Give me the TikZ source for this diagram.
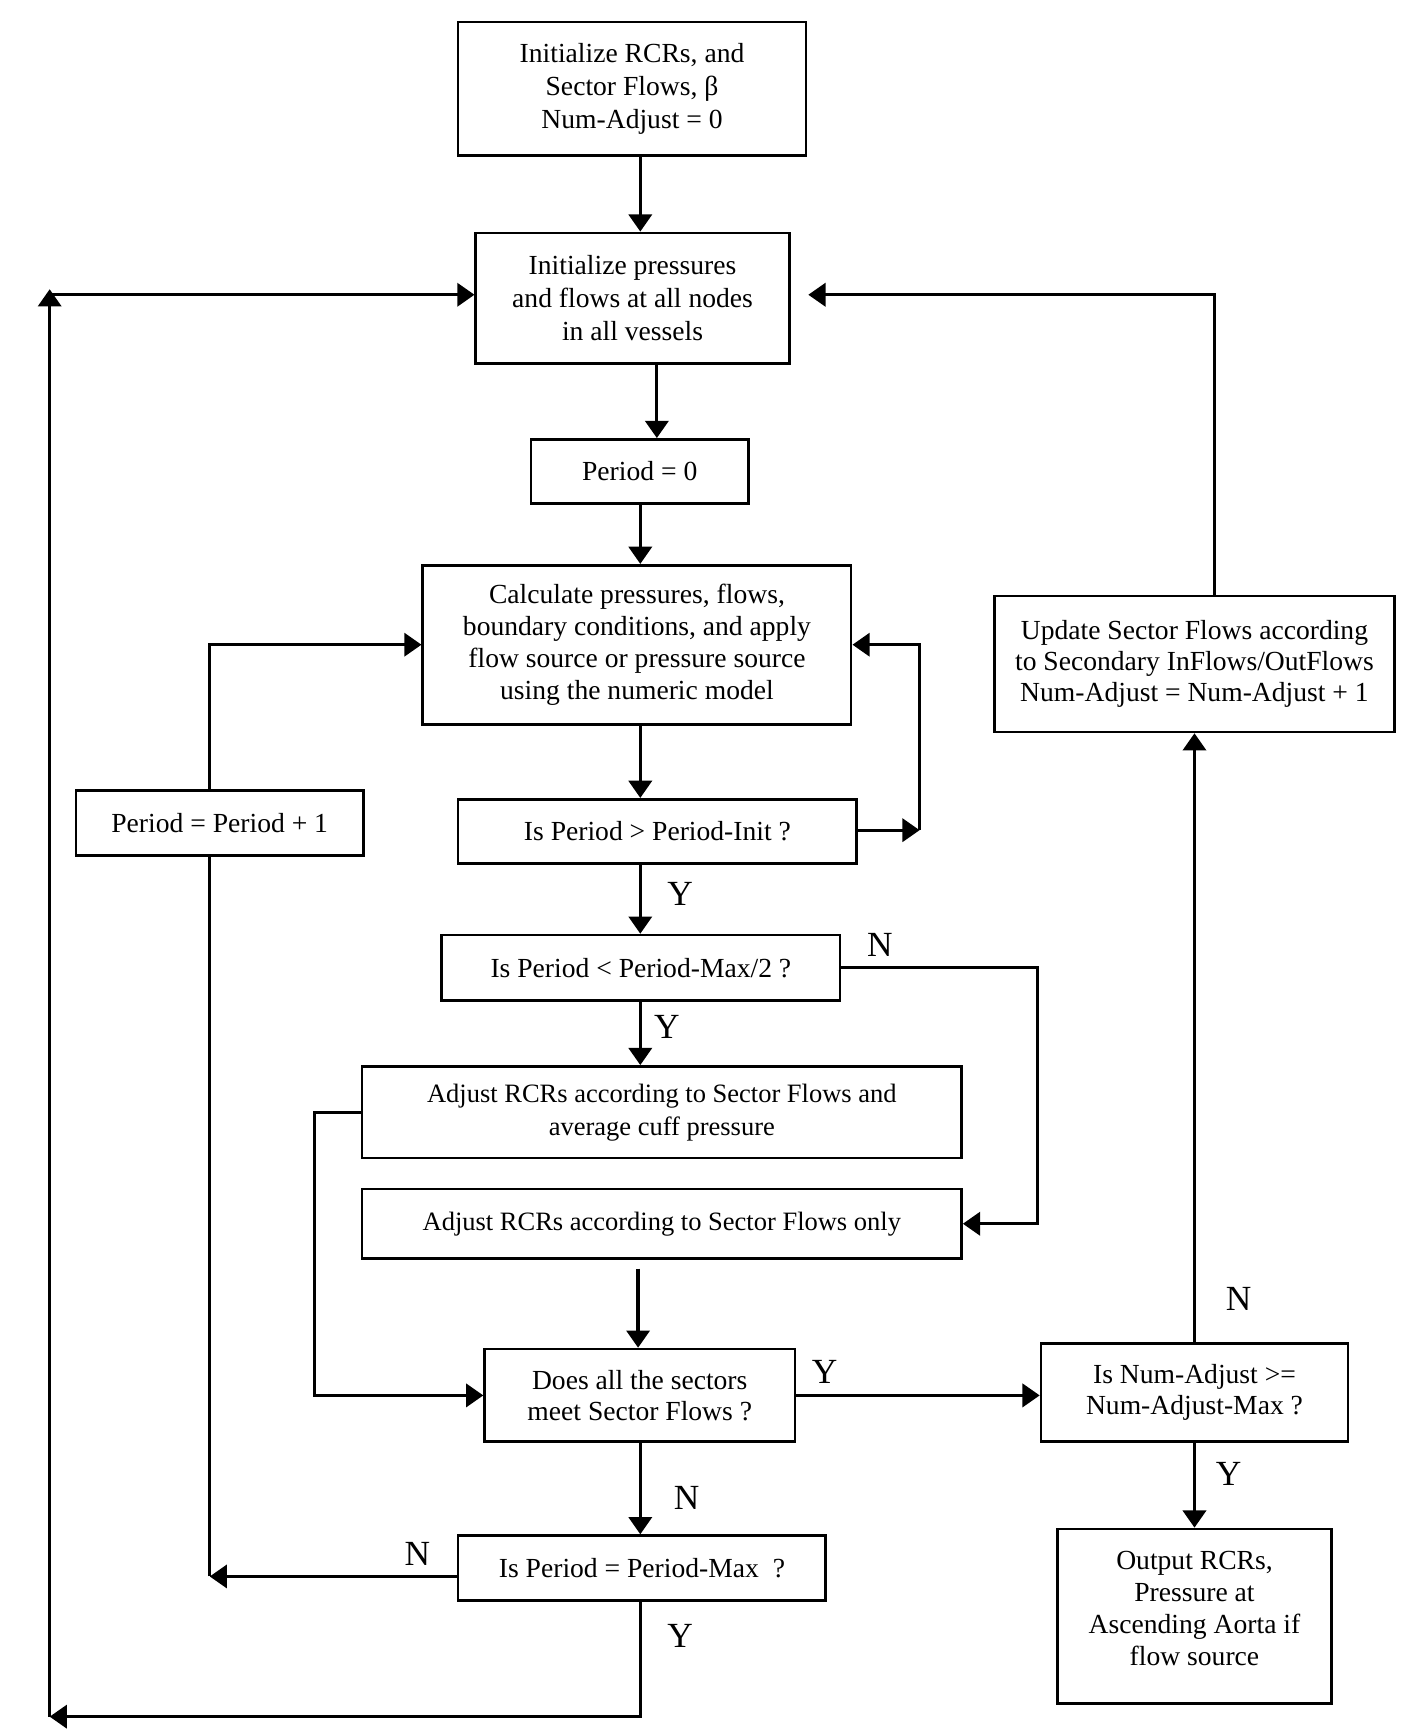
\documentclass[tikz,border=0pt]{standalone}
\usepackage{fontspec}
\setmainfont{Liberation Serif}
\usetikzlibrary{arrows.meta}
\begin{document}
\begin{tikzpicture}[x=0.5pt,y=-0.5pt,
  box/.style={draw,line width=1.2pt,align=center,inner sep=2pt,font=\fontsize{12.5}{15}\selectfont},
  arr/.style={line width=1.45pt,-{Triangle[length=7.8pt,width=10.5pt]}},
  ln/.style={line width=1.45pt},
  yn/.style={font=\fontsize{16}{18}\selectfont,inner sep=0pt}]
\useasboundingbox (0,0) rectangle (1284,1568);
\fill[white] (0,0) rectangle (1284,1568);

% boxes
\node[box,minimum width=157.5pt,minimum height=60.5pt] (b1) at (572.5,80.5)
  {Initialize RCRs, and\\Sector Flows, β\\Num-Adjust = 0};
\node[box,minimum width=142pt,minimum height=59pt] (b2) at (573,270)
  {Initialize pressures\\and flows at all nodes\\in all vessels};
\node[box,minimum width=98.5pt,minimum height=29pt] (b3) at (579.5,427)
  {Period = 0};
\node[box,minimum width=194pt,minimum height=72pt,font=\fontsize{12.5}{14.5}\selectfont] (b4) at (577,584)
  {Calculate pressures, flows,\\boundary conditions, and apply\\flow source or pressure source\\using the numeric model};
\node[box,minimum width=180.5pt,minimum height=29pt] (b5) at (595.5,753)
  {Is Period > Period-Init ?};
\node[box,minimum width=180.5pt,minimum height=29.5pt] (b6) at (580.5,876.5)
  {Is Period < Period-Max/2 ?};
\node[box,minimum width=271.5pt,minimum height=41.5pt,font=\fontsize{12}{15}\selectfont] (b7) at (599.5,1007.5)
  {Adjust RCRs according to Sector Flows and\\average cuff pressure};
\node[box,minimum width=271.5pt,minimum height=31.5pt,font=\fontsize{12}{15}\selectfont] (b8) at (599.5,1108.5)
  {Adjust RCRs according to Sector Flows only};
\node[box,minimum width=140.5pt,minimum height=42pt,font=\fontsize{12.5}{14}\selectfont] (b9) at (579.5,1264)
  {Does all the sectors\\meet Sector Flows ?};
\node[box,minimum width=139pt,minimum height=44.5pt,font=\fontsize{12.5}{14}\selectfont] (b10) at (1082,1261.5)
  {Is Num-Adjust >=\\Num-Adjust-Max ?};
\node[box,minimum width=181pt,minimum height=61.5pt,font=\fontsize{12.5}{14}\selectfont] (b11) at (1082,601.5)
  {Update Sector Flows according\\to Secondary InFlows/OutFlows\\Num-Adjust = Num-Adjust + 1};
\node[box,minimum width=124pt,minimum height=79pt,
  label={[align=center,font=\fontsize{12.5}{14.5}\selectfont,yshift=3.5pt]center:Output RCRs,\\Pressure at\\Ascending Aorta if\\flow source}] (b12) at (1082,1464) {};
\node[box,minimum width=166.5pt,minimum height=29.5pt] (b13) at (581.5,1420.5)
  {Is Period = Period-Max\ \ ?};
\node[box,minimum width=130pt,minimum height=29.5pt] (b14) at (199,745.5)
  {Period = Period + 1};

% helper coordinates
\coordinate (x580) at (580,0);
\coordinate (x595) at (595,0);
\coordinate (x578) at (578,0);
\coordinate (r5) at (833,752);
\coordinate (r6) at (940,0);
\coordinate (l7) at (285,0);
\coordinate (r11) at (1100,0);
\coordinate (l14) at (190,1428);
\coordinate (bl) at (45,1555);
\coordinate (tl) at (45,267);

% connectors
\draw[arr] (b1.south -| x580) -- (b2.north -| x580);
\draw[arr] (b2.south -| x595) -- (b3.north -| x595);
\draw[arr] (b3.south -| x580) -- (b4.north -| x580);
\draw[arr] (b4.south -| x580) -- (b5.north -| x580);
\draw[arr] (b5.east |- r5) -- (r5);
\draw[arr] (r5) |- (b4.east);
\draw[arr] (b5.south -| x580) -- (b6.north -| x580);
\draw[arr] (b6.east) -- (b6.east -| r6) -- (r6 |- b8.east) -- (b8.east);
\draw[arr] (b6.south -| x580) -- (b7.north -| x580);
\draw[arr,shorten <=4pt] (b8.south -| x578) -- (b9.north -| x578);
\draw[arr] (b7.west) -- (b7.west -| l7) |- (b9.west);
\draw[arr] (b9.east) -- (b9.east -| b10.west);
\draw[arr] (b10.north) -- (b11.south);
\draw[arr,shorten >=8pt] (r11 |- b11.north) -- (r11 |- tl) -- (tl -| b2.east);
\draw[arr] (b10.south) -- (b12.north);
\draw[arr] (b9.south -| x580) -- (b13.north -| x580);
\draw[arr] (b13.west |- l14) -- (l14);
\draw[ln] (l14) -- (l14 |- b14.south);
\draw[arr] (l14 |- b14.north) |- (b4.west);
\draw[arr] (b13.south -| x580) |- (bl);
\draw[arr] (bl) -- (45,262);
\draw[arr] (tl) -- (tl -| b2.west);

% labels
\node[yn] (lY1) at (616,810) {Y};
\node[yn] (lY2) at (604,930) {Y};
\node[yn] (lN1) at (797,856) {N};
\node[yn] (lY3) at (747,1243) {Y};
\node[yn] (lN2) at (1122,1177) {N};
\node[yn] (lY4) at (1113,1335) {Y};
\node[yn] (lN3) at (622,1357) {N};
\node[yn] (lN4) at (378,1408) {N};
\node[yn] (lY5) at (616,1482) {Y};
\end{tikzpicture}
\end{document}
